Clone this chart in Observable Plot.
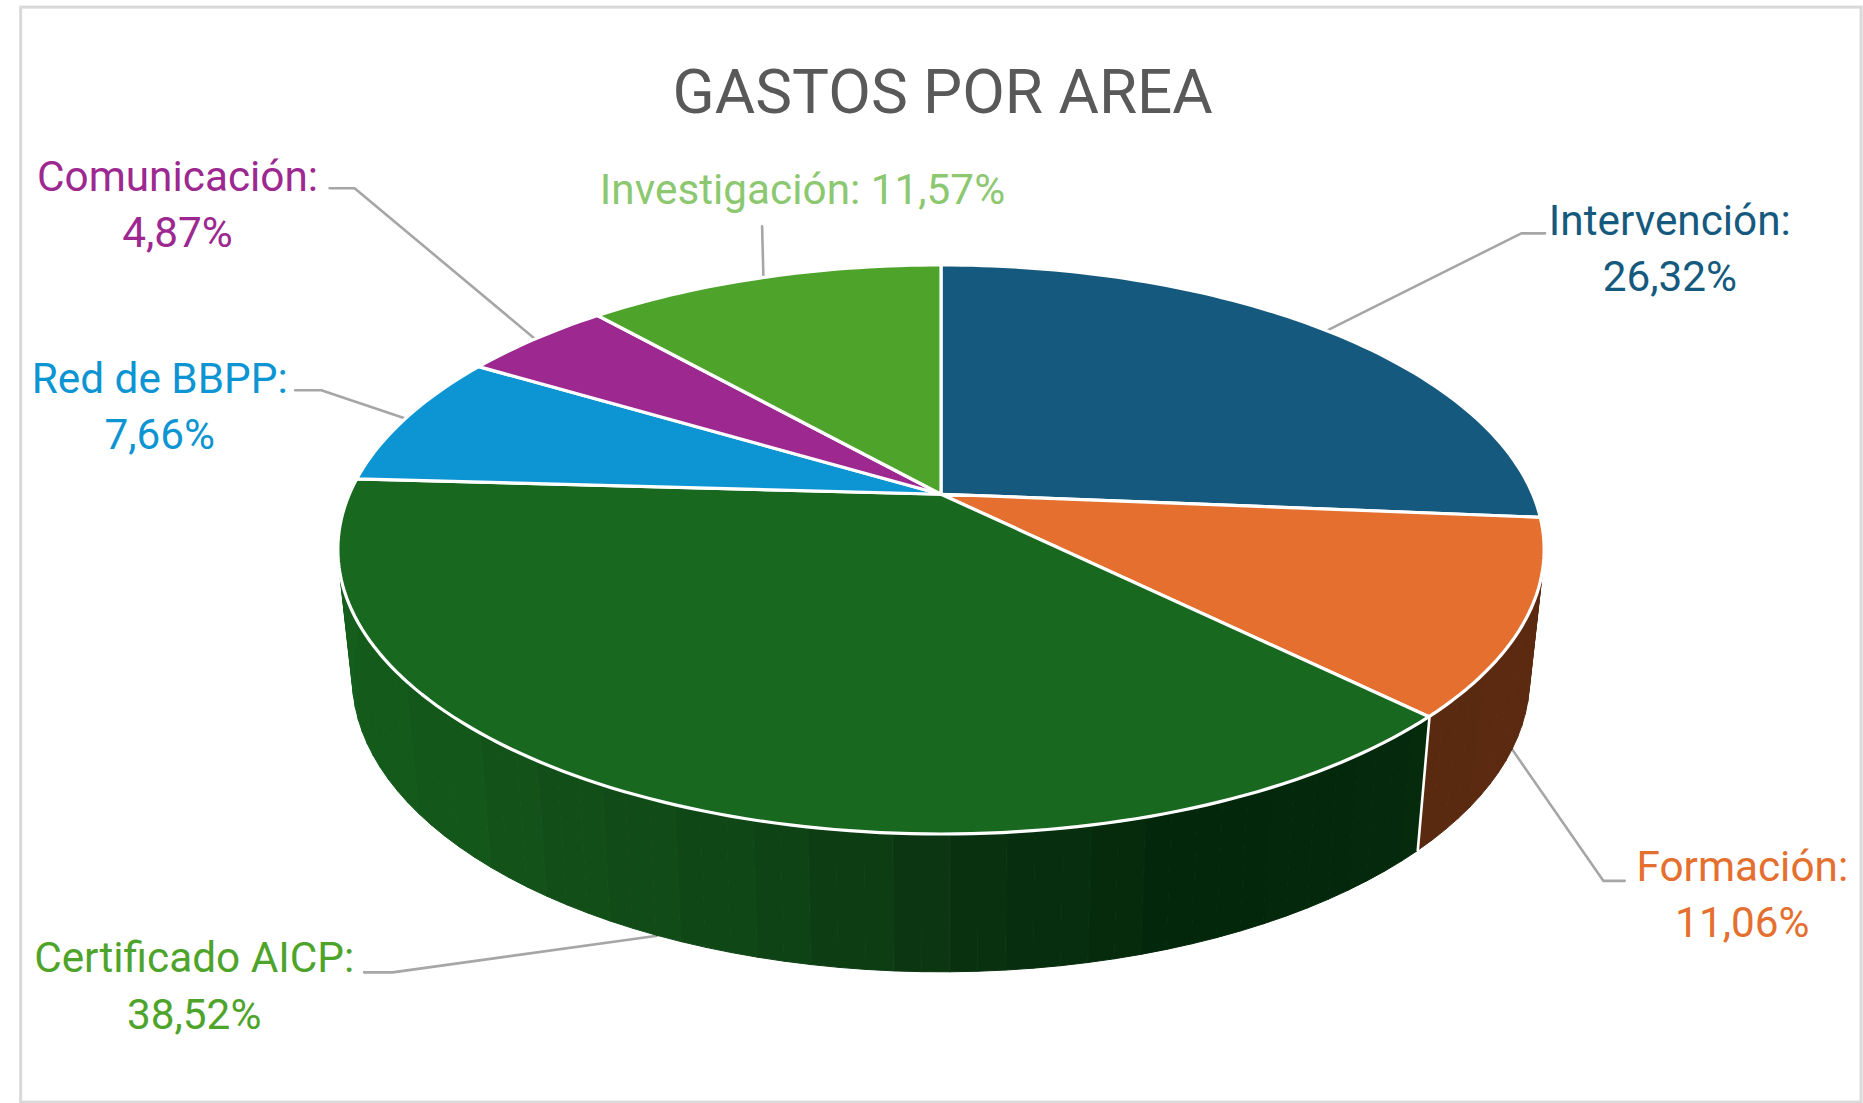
<!DOCTYPE html>
<html lang="es">
<head>
<meta charset="utf-8">
<title>GASTOS POR AREA</title>
<script src="https://cdn.jsdelivr.net/npm/d3@7"></script>
<script src="https://cdn.jsdelivr.net/npm/@observablehq/plot@0.6"></script>
<style>
html,body{margin:0;padding:0;background:#fff;overflow:hidden}
svg{display:block}
</style>
</head>
<body>
<div id="chart"></div>
<script>
// Chart values
const titleText = "GASTOS POR AREA";
const areas = ["Intervención", "Formación", "Certificado AICP", "Red de BBPP", "Comunicación", "Investigación"];
const shares = [26.32, 11.06, 38.52, 7.66, 4.87, 11.57];
const shareLabels = ["26,32%", "11,06%", "38,52%", "7,66%", "4,87%", "11,57%"];
const faceColors = ["#155A7E", "#E46F2E", "#18681F", "#0C95D2", "#9C2890", "#4EA42A"];
const labelColors = ["#155A7E", "#E46F2E", "#4EA42A", "#0C95D2", "#9C2890", "#8CC870"];

// Layout (drawing units of the reference view)
const W = 1568, H = 928.4;
const labelCenters = [1405, 1466, 163, 134, 149, 675];
const labelBaselines = [197, 741, 818, 330, 160, 171];
const lineStep = 47.4;
const singleLine = [false, false, false, false, false, true];
const elbowX = [[1300, 1280], [1367, 1349], [306, 330], [248, 270], [277, 298], [641, 641]];
const elbowY = [196, 741, 818, 328, 158, 190];
const anchorOnBase = [false, true, true, false, false, false];
const wallBand = 55;
const wallStops = [
  null,
  [[1190, "#5A2A10"], [1300, "#5C2A10"]],
  [[285, "#155E1C"], [480, "#125018"], [640, "#0F4516"], [800, "#0A3310"], [1000, "#03260A"], [1190, "#052A0C"]],
  null, null, null
];

// Perspective disc: same projection for the top face and the base
const k = 0.194;
const topDisc = {cx: 792, cy: 416, b: 498, a: 230.5};
const baseDisc = {cx: 792, cy: 522.7, b: 486, a: 238};
const project = (disc, pct) => {
  const t = pct / 100 * 2 * Math.PI;
  const u = Math.sin(t), v = -Math.cos(t), d = 1 - k * v;
  return {x: disc.cx + disc.b * u / d, y: disc.cy + disc.a * v / d};
};
const cum = d3.cumsum(shares);
const starts = shares.map((s, i) => cum[i] - s);

// Top-face wedges
const facePts = areas.flatMap((name, i) => {
  const n = Math.max(2, Math.ceil(shares[i] * 3));
  return d3.range(n + 1).map(j => {
    const p = project(topDisc, starts[i] + shares[i] * j / n);
    return {name, color: faceColors[i], x: p.x, y: p.y, x0: topDisc.cx, y0: topDisc.cy};
  });
});

// Side wall strips, shaded in broad vertical bands
const wallPts = areas.flatMap((name, i) => {
  if (!wallStops[i]) return [];
  const xs = wallStops[i].map(s => s[0]);
  const shade = d3.scaleLinear(xs, wallStops[i].map(s => s[1])).clamp(true);
  const n = Math.ceil(shares[i] * 1.6);
  return d3.range(n).flatMap(j => {
    const a = starts[i] + shares[i] * j / n, b = starts[i] + shares[i] * (j + 1) / n;
    const mid = project(baseDisc, (a + b) / 2).x;
    const color = d3.color(shade(Math.round(mid / wallBand) * wallBand)).formatHex();
    return [a, b].map(q => {
      const p = project(topDisc, q), r = project(baseDisc, q);
      return {key: name + j, color, x1: p.x, y1: p.y, x2: r.x, y2: r.y};
    });
  });
});

// Boundary between the two visible walls
const wallEdgePct = cum[1];
const wallEdgeTop = project(topDisc, wallEdgePct), wallEdgeBase = project(baseDisc, wallEdgePct);

// Leader lines end at the middle of each slice's arc
const leaderPts = areas.flatMap((name, i) => {
  const end = project(anchorOnBase[i] ? baseDisc : topDisc, starts[i] + shares[i] / 2);
  return [
    {name, x: elbowX[i][0], y: elbowY[i]},
    {name, x: elbowX[i][1], y: elbowY[i]},
    {name, x: end.x, y: end.y}
  ];
});

// Label lines
const labelRows = areas.flatMap((name, i) => singleLine[i]
  ? [{text: `${name}: ${shareLabels[i]}`, x: labelCenters[i], y: labelBaselines[i], color: labelColors[i]}]
  : [{text: `${name}:`, x: labelCenters[i], y: labelBaselines[i], color: labelColors[i]},
     {text: shareLabels[i], x: labelCenters[i], y: labelBaselines[i] + lineStep, color: labelColors[i]}]);

const font = "Roboto, 'Liberation Sans', sans-serif";
const chart = Plot.plot({
  width: 1863, height: 1103,
  margin: 0,
  x: {domain: [0, W], range: [0, 1863], axis: null},
  y: {domain: [0, H], range: [0, 1103], axis: null},
  color: {type: "identity"},
  style: {background: "#fff"},
  marks: [
    Plot.rect([{}], {x1: () => 17.4, x2: () => 1566.4, y1: () => 6, y2: () => 927.6, fill: "none", stroke: "#D9D9D9", strokeWidth: 3}),
    Plot.line(leaderPts, {x: "x", y: "y", z: "name", stroke: "#A6A6A6", strokeWidth: 2.6}),
    Plot.area(wallPts, {x1: "x1", y1: "y1", x2: "x2", y2: "y2", z: "key", fill: "color", stroke: "color", strokeWidth: 1}),
    Plot.link([{}], {x1: () => wallEdgeTop.x, y1: () => wallEdgeTop.y, x2: () => wallEdgeBase.x, y2: () => wallEdgeBase.y, stroke: "#fff", strokeWidth: 2.6}),
    Plot.area(facePts, {x1: "x0", y1: "y0", x2: "x", y2: "y", z: "name", fill: "color", stroke: "#fff", strokeWidth: 3.2, strokeLinejoin: "round"}),
    Plot.text([titleText], {x: () => 793, y: () => 95, text: d => d, fontSize: 62, fill: "#595959", textAnchor: "middle", lineAnchor: "bottom", fontFamily: font}),
    Plot.text(labelRows, {x: "x", y: "y", text: "text", fill: "color", fontSize: 42.3, textAnchor: "middle", lineAnchor: "bottom", fontFamily: font})
  ]
});
document.getElementById("chart").append(chart);
</script>
</body>
</html>
